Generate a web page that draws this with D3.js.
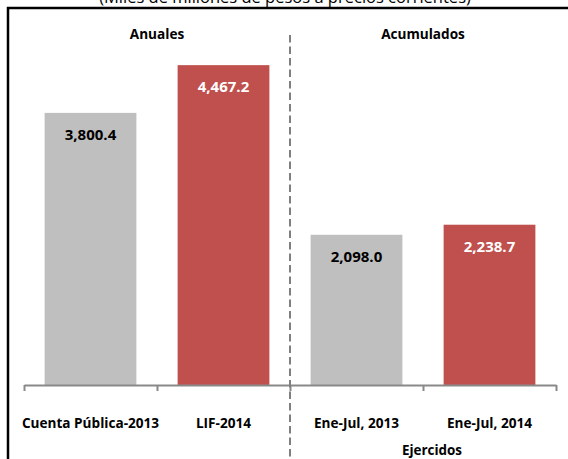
<!DOCTYPE html>
<html>
<head>
<meta charset="utf-8">
<script src="https://cdn.jsdelivr.net/npm/d3@7"></script>
<style>
  body { margin: 0; background: #fff; }
  text { font-family: "Open Sans", sans-serif; }
</style>
</head>
<body>
<div id="graph"></div>
<script>
var categories = ["Cuenta Pública-2013", "LIF-2014", "Ene-Jul, 2013", "Ene-Jul, 2014"];
var values = [3800.4, 4467.2, 2098.0, 2238.7];
var groups = ["Anuales", "Acumulados"];
var subtitle = "(Miles de millones de pesos a precios corrientes)";
var axisTitle = "Ejercidos";

var width = 568, height = 459;

var svg = d3.select("#graph")
  .append("svg")
    .attr("width", width)
    .attr("height", height);

// frame (only top and left edges visible)
svg.append("path")
  .attr("d", "M8,459V8H568")
  .attr("fill", "none")
  .attr("stroke", "#000")
  .attr("stroke-width", 2.5);

svg.append("text")
  .attr("x", 285)
  .attr("y", 3)
  .attr("text-anchor", "middle")
  .style("font-size", "16.5px")
  .text(subtitle);

var x = d3.scaleBand()
  .domain(categories)
  .range([24, 556])
  .paddingInner(0.31)
  .paddingOuter(0.155);

// tick positions sit on band boundaries
var edge = d3.scaleLinear().domain([0, categories.length]).range([24, 556]);

var y = d3.scaleLinear()
  .domain([0, 5000])
  .range([385, 27]);

var color = function(i) { return i % 2 == 0 ? "#bfbfbf" : "#c0504d"; };

svg.selectAll(".bar")
  .data(values)
  .enter().append("rect")
    .attr("class", "bar")
    .attr("x", (d, i) => x(categories[i]))
    .attr("width", x.bandwidth())
    .attr("y", d => y(d))
    .attr("height", d => y(0) - y(d))
    .attr("fill", (d, i) => color(i));

svg.selectAll(".val")
  .data(values)
  .enter().append("text")
    .attr("class", "val")
    .attr("x", (d, i) => x(categories[i]) + x.bandwidth() / 2)
    .attr("y", d => y(d) + 27)
    .attr("text-anchor", "middle")
    .style("font-size", "15px")
    .style("font-weight", "bold")
    .attr("fill", (d, i) => i % 2 == 0 ? "#000" : "#fff")
    .text(d => d3.format(",.1f")(d));

var axis = svg.append("g")
  .attr("transform", "translate(0," + y(0) + ")")
  .call(d3.axisBottom(edge).tickValues(d3.range(categories.length + 1)).tickFormat("").tickSize(6).tickSizeOuter(0));
axis.selectAll("path, line").attr("stroke", "#898989").attr("stroke-width", 2);

svg.selectAll(".cat")
  .data(categories)
  .enter().append("text")
    .attr("class", "cat")
    .attr("x", d => x(d) + x.bandwidth() / 2)
    .attr("y", 428)
    .attr("text-anchor", "middle")
    .style("font-size", "13.6px")
    .style("font-weight", "bold")
    .text(d => d);

// group separator
svg.append("line")
  .attr("x1", edge(2)).attr("x2", edge(2))
  .attr("y1", 35).attr("y2", 459)
  .attr("stroke", "#7f7f7f")
  .attr("stroke-width", 2)
  .attr("stroke-dasharray", "7.5,4");

svg.selectAll(".grp")
  .data(groups)
  .enter().append("text")
    .attr("class", "grp")
    .attr("x", (d, i) => (edge(i * 2) + edge(i * 2 + 2)) / 2)
    .attr("y", 39)
    .attr("text-anchor", "middle")
    .style("font-size", "13.6px")
    .style("font-weight", "bold")
    .text(d => d);

svg.append("text")
  .attr("x", 432)
  .attr("y", 455)
  .attr("text-anchor", "middle")
  .style("font-size", "13.4px")
  .style("font-weight", "bold")
  .text(axisTitle);
</script>
</body>
</html>
